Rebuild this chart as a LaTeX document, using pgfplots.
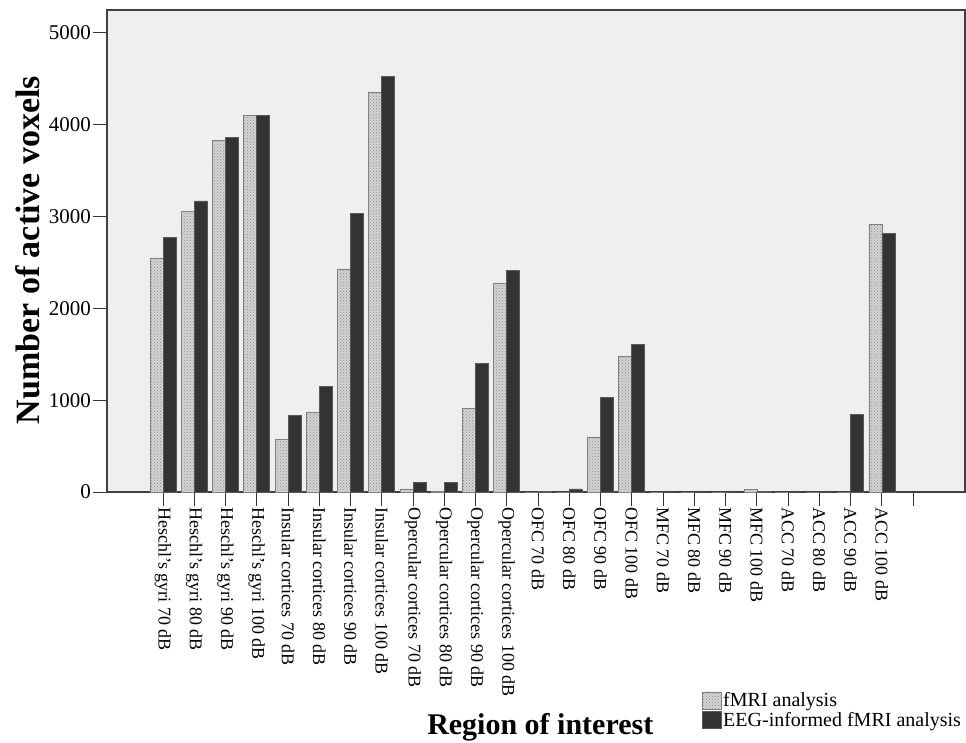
\documentclass[border=0pt]{standalone}
\usepackage{fontspec}
\setmainfont{Liberation Serif}
\usepackage{pgfplots}
\usepackage{pgfplotstable}
\pgfplotsset{compat=1.18}
\usetikzlibrary{patterns}
\definecolor{bgc}{HTML}{EFEFEF}
\definecolor{darkbar}{HTML}{333333}
\definecolor{lightbar}{HTML}{D4D4D4}
\pgfplotstableread{
x fmri eeg
0 2550 2775
1 3055 3170
2 3825 3860
3 4100 4100
4 577 831
5 871 1150
6 2430 3035
7 4350 4525
8 33 105
9 10 105
10 912 1405
11 2278 2418
12 0 5
13 0 33
14 600 1033
15 1481 1612
16 0 0
17 0 0
18 0 0
19 30 5
20 0 0
21 0 0
22 0 846
23 2919 2821
}\datatable
\pgfplotsset{/pgfplots/ybar legend/.style={/pgfplots/legend image code/.code={\draw[##1] (0pt,-8.5pt) rectangle (19pt,8.5pt);}}}
\begin{document}
\begin{tikzpicture}[x=1pt,y=1pt]
\path[use as bounding box] (-107,-251) rectangle (859,492);
\begin{axis}[
  at={(0,0)}, anchor=south west,
  scale only axis, width=858pt, height=482pt,
  xmin=-1.792, xmax=25.66, ymin=0, ymax=5250,
  ybar=0pt, bar width=13pt,
  axis background/.style={fill=bgc},
  axis line style={draw=black!75, line width=1.2pt},
  xtick={0,...,24},
  xticklabels={{Heschl's gyri 70 dB},{Heschl's gyri 80 dB},{Heschl's gyri 90 dB},{Heschl's gyri 100 dB},
    {Insular cortices 70 dB},{Insular cortices 80 dB},{Insular cortices 90 dB},{Insular cortices 100 dB},
    {Opercular cortices 70 dB},{Opercular cortices 80 dB},{Opercular cortices 90 dB},{Opercular cortices 100 dB},
    {OFC 70 dB},{OFC 80 dB},{OFC 90 dB},{OFC 100 dB},
    {MFC 70 dB},{MFC 80 dB},{MFC 90 dB},{MFC 100 dB},
    {ACC 70 dB},{ACC 80 dB},{ACC 90 dB},{ACC 100 dB},{}},
  ytick={0,1000,...,5000},
  xtick pos=lower, ytick pos=left,
  tick align=outside, major tick length=14pt,
  tick style={black!80, line width=1pt},
  xticklabel style={rotate=-90, anchor=west, font=\fontsize{18}{18}\selectfont, inner sep=1pt},
  yticklabel style={font=\fontsize{21}{21}\selectfont, inner sep=2pt},
  /pgf/number format/assume math mode=true,
  /pgf/number format/1000 sep={},
  scaled y ticks=false,
  ylabel={Number of active voxels},
  ylabel style={font=\bfseries\fontsize{34}{34}\selectfont, at={(axis description cs:-0.092,0.502)}, anchor=center},
  xlabel={Region of interest},
  xlabel style={font=\bfseries\fontsize{30}{30}\selectfont, at={(axis description cs:0.505,-0.458)}, anchor=north, inner sep=0pt},
  legend style={draw=none, fill=none, inner sep=0pt, outer sep=0pt,
    at={(axis description cs:0.6935,-0.413)}, anchor=north west,
    font=\fontsize{20}{20}\selectfont, row sep=1pt,
    nodes={inner sep=1.5pt}},
  legend cell align=left,
]
\addplot[fill=lightbar, draw=black!50, line width=0.7pt,
  postaction={pattern=crosshatch dots, pattern color=black!45}]
  table[x=x, y=fmri] {\datatable};
\addlegendentry{fMRI analysis}
\addplot[fill=darkbar, draw=black!65, line width=0.7pt]
  table[x=x, y=eeg] {\datatable};
\addlegendentry{EEG-informed fMRI analysis}
\end{axis}
\end{tikzpicture}
\end{document}
